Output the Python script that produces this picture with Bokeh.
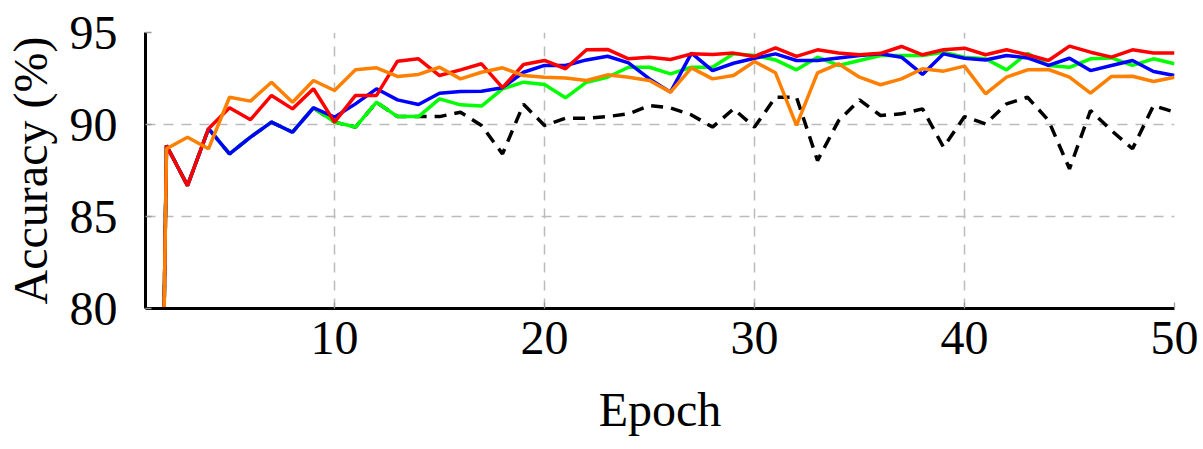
from bokeh.plotting import figure
from bokeh.models import Range1d, FixedTicker
from bokeh.embed import file_html
from bokeh.resources import INLINE

epochs = list(range(1, 51))

acc_black = [10.0, 88.86, 86.68, 89.77, 88.41, 89.31, 90.13, 89.58, 90.91, 90.13,
             89.86, 91.21, 90.43, 90.43, 90.43, 90.67, 89.95, 88.40, 91.10, 89.95,
             90.34, 90.34, 90.43, 90.58, 91.03, 90.90, 90.52, 89.86, 90.85, 89.86,
             91.48, 91.48, 88.04, 90.20, 91.34, 90.49, 90.58, 90.85, 88.77, 90.43,
             90.03, 91.12, 91.48, 90.22, 87.59, 90.76, 89.67, 88.68, 91.03, 90.67]

acc_green = [10.0, 88.86, 86.68, 89.77, 88.41, 89.31, 90.13, 89.58, 90.91, 90.13,
             89.86, 91.21, 90.43, 90.43, 91.39, 91.07, 91.00, 91.94, 92.30, 92.17,
             91.45, 92.30, 92.57, 93.11, 93.11, 92.75, 93.11, 93.11, 93.84, 93.75,
             93.51, 92.97, 93.66, 93.21, 93.48, 93.75, 93.75, 93.75, 93.93, 93.66,
             93.57, 92.97, 93.87, 93.21, 93.11, 93.57, 93.62, 93.21, 93.57, 93.30]

acc_blue = [10.0, 88.86, 86.68, 89.77, 88.41, 89.31, 90.13, 89.58, 90.91, 90.40,
            91.12, 91.94, 91.34, 91.09, 91.70, 91.79, 91.81, 92.00, 92.84, 93.21,
            93.21, 93.51, 93.71, 93.35, 92.48, 91.76, 93.88, 92.93, 93.33, 93.60,
            93.84, 93.48, 93.48, 93.62, 93.75, 93.84, 93.66, 92.72, 93.84, 93.60,
            93.51, 93.75, 93.62, 93.21, 93.60, 92.93, 93.21, 93.48, 92.88, 92.66]

acc_red = [10.0, 88.86, 86.68, 89.77, 90.91, 90.26, 91.58, 90.85, 91.94, 90.13,
           91.58, 91.58, 93.44, 93.57, 92.66, 92.97, 93.30, 92.00, 93.26, 93.48,
           93.03, 94.06, 94.08, 93.57, 93.66, 93.53, 93.84, 93.80, 93.88, 93.70,
           94.17, 93.70, 94.06, 93.89, 93.79, 93.87, 94.24, 93.79, 94.06, 94.15,
           93.79, 94.06, 93.79, 93.48, 94.26, 93.93, 93.66, 94.06, 93.89, 93.89]

acc_orange = [10.0, 88.68, 89.31, 88.68, 91.48, 91.27, 92.30, 91.21, 92.39, 91.85,
              92.97, 93.08, 92.61, 92.72, 93.11, 92.48, 92.84, 93.08, 92.66, 92.57,
              92.53, 92.39, 92.70, 92.57, 92.39, 91.76, 93.08, 92.48, 92.66, 93.42,
              92.81, 89.95, 92.81, 93.30, 92.57, 92.16, 92.48, 93.03, 92.90, 93.17,
              91.67, 92.57, 92.97, 92.99, 92.57, 91.70, 92.61, 92.62, 92.34, 92.57]

x_ticks = [10, 20, 30, 40, 50]
y_ticks = [80, 85, 90, 95]

FONT = "Liberation Serif"

p = figure(width=1203, height=449, output_backend="svg", toolbar_location=None,
           x_range=Range1d(1, 50), y_range=Range1d(80, 95),
           min_border_left=142, min_border_right=29, min_border_top=32, min_border_bottom=141)
p.outline_line_color = None
p.background_fill_color = "white"

for ax in (p.xaxis[0], p.yaxis[0]):
    ax.axis_line_color = "black"
    ax.axis_line_width = 3
    ax.major_tick_in = 6
    ax.major_tick_out = 0
    ax.major_tick_line_color = "#999999"
    ax.major_tick_line_width = 1.3
    ax.minor_tick_line_color = None
    ax.major_label_text_font = FONT
    ax.major_label_text_font_size = "48px"
    ax.major_label_text_color = "black"
    ax.axis_label_text_font = FONT
    ax.axis_label_text_font_size = "48px"
    ax.axis_label_text_font_style = "normal"
    ax.axis_label_text_color = "black"

p.xaxis[0].ticker = FixedTicker(ticks=x_ticks)
p.yaxis[0].ticker = FixedTicker(ticks=y_ticks)
p.xaxis[0].axis_label = "Epoch"
p.yaxis[0].axis_label = "Accuracy (%)"
p.xaxis[0].major_label_standoff = 13
p.xaxis[0].axis_label_standoff = 26
p.yaxis[0].major_label_standoff = 28
p.yaxis[0].axis_label_standoff = 10

for g in (p.xgrid[0], p.ygrid[0]):
    g.grid_line_color = "#bbbbbb"
    g.grid_line_width = 1.5
    g.grid_line_dash = "10 8"

lw = 3.5
p.line(epochs, acc_black, line_color="black", line_width=lw, line_dash="12 8")
p.line(epochs, acc_green, line_color="#00ff00", line_width=lw)
p.line(epochs, acc_blue, line_color="#0000ff", line_width=lw)
p.line(epochs, acc_red, line_color="#ff0000", line_width=lw)
p.line(epochs, acc_orange, line_color="#ff8000", line_width=lw)

open("out.html", "w").write(file_html(p, INLINE))
